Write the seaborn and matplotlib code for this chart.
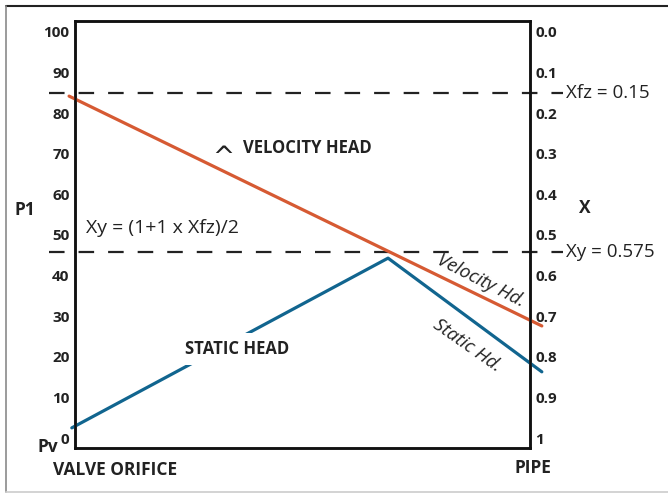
import matplotlib
matplotlib.use("Agg")
import matplotlib.pyplot as plt
from matplotlib.lines import Line2D
import seaborn as sns
import numpy as np

# Datos (eje izquierdo en unidades de P, eje x 0 = orificio, 1 = tubería)
velocity_x = [-0.013, 1.026]
velocity_p = [84.2, 27.6]
static_x = [-0.007, 0.688, 1.026]
static_p = [2.5, 44.3, 16.3]
dashed_levels = [84.9, 45.8]
dashed_labels = ["Xfz = 0.15", "Xy = 0.575"]
left_ticks = [0, 10, 20, 30, 40, 50, 60, 70, 80, 90, 100]
right_ticks = [0.0, 0.1, 0.2, 0.3, 0.4, 0.5, 0.6, 0.7, 0.8, 0.9, 1.0]
right_labels = ["0.0", "0.1", "0.2", "0.3", "0.4", "0.5", "0.6", "0.7", "0.8", "0.9", "1"]

ORANGE = "#D65A33"
BLUE = "#11658F"
DARK = "#222222"

sns.set_theme(style="white")
plt.rcParams["font.family"] = ["Open Sans", "DejaVu Sans"]

fig = plt.figure(figsize=(6.68, 4.93), dpi=100)
ax = fig.add_axes([75 / 668, 1 - 448 / 493, 455 / 668, 427 / 493])

p_min, p_max = -2.46, 102.7
ax.set_xlim(0, 1)
ax.set_ylim(p_min, p_max)

# === Líneas de referencia discontinuas ===
for nivel, etiqueta in zip(dashed_levels, dashed_labels):
    ax.plot([-0.057, 1.073], [nivel, nivel], color=DARK, lw=1.6,
            dashes=(7.0, 6.3), clip_on=False, zorder=2)
    ax.text(1.079, nivel, etiqueta, fontsize=13.5, color=DARK,
            va="center", ha="left", clip_on=False)

# === Curvas ===
sns.lineplot(x=velocity_x, y=velocity_p, ax=ax, color=ORANGE, lw=2.3,
             clip_on=False, zorder=3)
sns.lineplot(x=static_x, y=static_p, ax=ax, color=BLUE, lw=2.3,
             clip_on=False, zorder=3)

# === Etiquetas internas ===
ax.text(0.356, 21.9, "STATIC HEAD", fontsize=12, fontweight="bold",
        color=DARK, ha="center", va="center", zorder=4,
        bbox=dict(facecolor="white", edgecolor="none", pad=5))
ax.text(0.325, 69.0, "^", fontsize=19, color=DARK, ha="center",
        va="center", family="DejaVu Sans")
ax.text(0.369, 71.4, "VELOCITY HEAD", fontsize=12, fontweight="bold",
        color=DARK, ha="left", va="center")
ax.text(0.024, 51.7, "Xy = (1+1 x Xfz)/2", fontsize=14, color=DARK,
        ha="left", va="center")
ax.text(0.892, 38.6, "Velocity Hd.", fontsize=13.5, style="italic",
        color=DARK, ha="center", va="center", rotation=-27)
ax.text(0.862, 22.9, "Static Hd.", fontsize=13.5, style="italic",
        color=DARK, ha="center", va="center", rotation=-35)

# === Ejes ===
ax.set_xticks([])
ax.set_yticks(left_ticks)
ax.set_yticklabels([str(t) for t in left_ticks], fontsize=11,
                   fontweight="bold", color=DARK)
ax.tick_params(axis="y", length=0, pad=4)

ax2 = ax.twinx()
ax2.set_ylim(1 - p_min / 100, 1 - p_max / 100)
ax2.set_yticks(right_ticks)
ax2.set_yticklabels(right_labels, fontsize=11, fontweight="bold", color=DARK)
ax2.tick_params(axis="y", length=0, pad=4)

for a in (ax, ax2):
    for s in a.spines.values():
        s.set_color("#111111")
        s.set_linewidth(1.8)

# === Textos exteriores ===
fig.text(25 / 668, 1 - 210 / 493, "P1", fontsize=12.5, fontweight="bold",
         color=DARK, ha="center", va="center")
fig.text(48 / 668, 1 - 447 / 493, "Pv", fontsize=12.5, fontweight="bold",
         color=DARK, ha="center", va="center")
fig.text(585 / 668, 1 - 208 / 493, "X", fontsize=12.5, fontweight="bold",
         color=DARK, ha="center", va="center")
fig.text(53 / 668, 1 - 470 / 493, "VALVE ORIFICE", fontsize=12.5,
         fontweight="bold", color=DARK, ha="left", va="center")
fig.text(533 / 668, 1 - 468 / 493, "PIPE", fontsize=12.5,
         fontweight="bold", color=DARK, ha="center", va="center")

# === Marco exterior ===
fig.add_artist(Line2D([6 / 668, 1], [1 - 6 / 493, 1 - 6 / 493],
                      transform=fig.transFigure, color=DARK, lw=1.5))
fig.add_artist(Line2D([6 / 668, 6 / 668], [1 - 6 / 493, 1 - 492 / 493],
                      transform=fig.transFigure, color="#8a8a8a", lw=1.2))
fig.add_artist(Line2D([6 / 668, 1], [1 - 492 / 493, 1 - 492 / 493],
                      transform=fig.transFigure, color="#cccccc", lw=1.2))

fig.savefig("out.png", dpi=100)
